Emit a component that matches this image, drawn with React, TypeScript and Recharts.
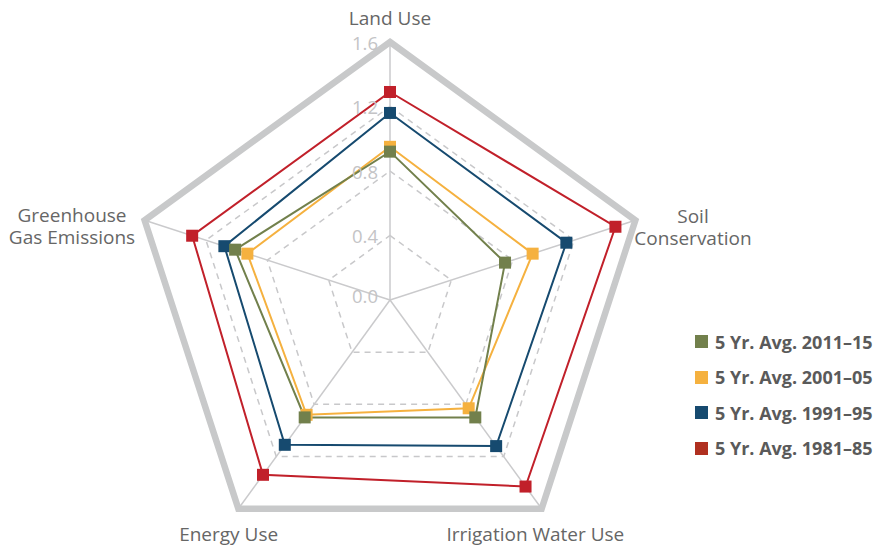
import React from 'react';
import { RadarChart, Radar, PolarGrid, PolarAngleAxis, PolarRadiusAxis, Legend } from 'recharts';

const categories = ['Land Use', 'Soil Conservation', 'Irrigation Water Use', 'Energy Use', 'Greenhouse Gas Emissions'];
const avg2011_15 = [0.92, 0.75, 0.9, 0.9, 1.01];
const avg2001_05 = [0.95, 0.93, 0.83, 0.88, 0.93];
const avg1991_95 = [1.16, 1.15, 1.12, 1.11, 1.08];
const avg1981_85 = [1.29, 1.47, 1.43, 1.34, 1.29];
const radiusTicks = [0, 0.4, 0.8, 1.2, 1.6];

const data = categories.map((c, i) => ({
  category: c,
  s2011: avg2011_15[i],
  s2001: avg2001_05[i],
  s1991: avg1991_95[i],
  s1981: avg1981_85[i],
}));

// draw order: red, blue, yellow, green (green on top)
const series = [
  { key: 's1981', name: '5 Yr. Avg. 1981–85', color: '#c1202a', legendColor: '#b03020' },
  { key: 's1991', name: '5 Yr. Avg. 1991–95', color: '#164a6f', legendColor: '#164a6f' },
  { key: 's2001', name: '5 Yr. Avg. 2001–05', color: '#f5b13f', legendColor: '#f5b13f' },
  { key: 's2011', name: '5 Yr. Avg. 2011–15', color: '#72804c', legendColor: '#72804c' },
];

const FONT = '"Open Sans", Lato, sans-serif';

const labelLayout: Record<string, { dx: number; dy: number; lines: string[] }> = {
  'Land Use': { dx: 0, dy: -9, lines: ['Land Use'] },
  'Soil Conservation': { dx: 50, dy: 5, lines: ['Soil', 'Conservation'] },
  'Irrigation Water Use': { dx: -11, dy: 26, lines: ['Irrigation Water Use'] },
  'Energy Use': { dx: -5, dy: 26, lines: ['Energy Use'] },
  'Greenhouse Gas Emissions': { dx: -65, dy: 4, lines: ['Greenhouse', 'Gas Emissions'] },
};

const AngleTick = (props: any) => {
  const { x, y, payload } = props;
  const lay = labelLayout[payload.value] || { dx: 0, dy: 0, lines: [payload.value] };
  return (
    <text x={x + lay.dx} y={y + lay.dy} textAnchor="middle" fill="#666" fontSize={19} fontFamily={FONT}>
      {lay.lines.map((l, i) => (
        <tspan key={i} x={x + lay.dx} dy={i === 0 ? 0 : 22}>{l}</tspan>
      ))}
    </text>
  );
};

const RadiusTick = (props: any) => {
  const { x, y, payload, index } = props;
  return (
    <text x={x - 12} y={y + (index === 0 ? -5 : 0)} textAnchor="end" dominantBaseline="central" fill="#c4c4c6" fontSize={18.5} fontFamily={FONT}>
      {Number(payload.value).toFixed(1)}
    </text>
  );
};

const makeDot = (color: string) => (props: any) => {
  const { cx, cy } = props;
  return <rect key={`${cx}-${cy}`} x={cx - 6} y={cy - 6} width={12} height={12} fill={color} />;
};

const LegendContent = () => (
  <div style={{ fontFamily: FONT }}>
    {[...series].reverse().map((s) => (
      <div key={s.key} style={{ display: 'flex', alignItems: 'center', height: 35.5 }}>
        <div style={{ width: 13, height: 13, background: s.legendColor, marginRight: 7 }} />
        <span style={{ color: '#5a5a5a', fontWeight: 700, fontSize: 18, whiteSpace: 'nowrap' }}>{s.name}</span>
      </div>
    ))}
  </div>
);

export default function App() {
  return (
    <div style={{ position: 'absolute', left: 0, top: 0, width: 877, height: 546, background: '#fff' }}>
      <RadarChart
        width={877}
        height={546}
        data={data}
        cx={390}
        cy={300}
        outerRadius={258}
        margin={{ top: 0, right: 0, bottom: 0, left: 0 }}
      >
        <PolarGrid gridType="polygon" radialLines={false} stroke="#c8c8ca" strokeWidth={1.5} strokeDasharray="6 5" />
        <PolarGrid gridType="polygon" radialLines={true} polarRadius={[]} stroke="#cacacc" strokeWidth={1.5} />
        <PolarAngleAxis
          dataKey="category"
          axisLineType="polygon"
          axisLine={{ stroke: '#c8c9ca', strokeWidth: 6.5 }}
          tickLine={false}
          tick={<AngleTick />}
        />
        <PolarRadiusAxis
          type="number"
          angle={90}
          domain={[0, 1.6]}
          allowDecimals={true}
          allowDataOverflow={true}
          tickCount={5}
          ticks={radiusTicks}
          axisLine={false}
          tickLine={false}
          tick={<RadiusTick />}
        />
        {series.map((s) => (
          <Radar
            key={s.key}
            name={s.name}
            dataKey={s.key}
            stroke={s.color}
            strokeWidth={2}
            fill="none"
            fillOpacity={0}
            dot={makeDot(s.color)}
            isAnimationActive={false}
          />
        ))}
        <Legend
          layout="vertical"
          verticalAlign="top"
          align="left"
          content={<LegendContent />}
          wrapperStyle={{ position: 'absolute', left: 695, top: 324, width: 190 }}
        />
      </RadarChart>
    </div>
  );
}
